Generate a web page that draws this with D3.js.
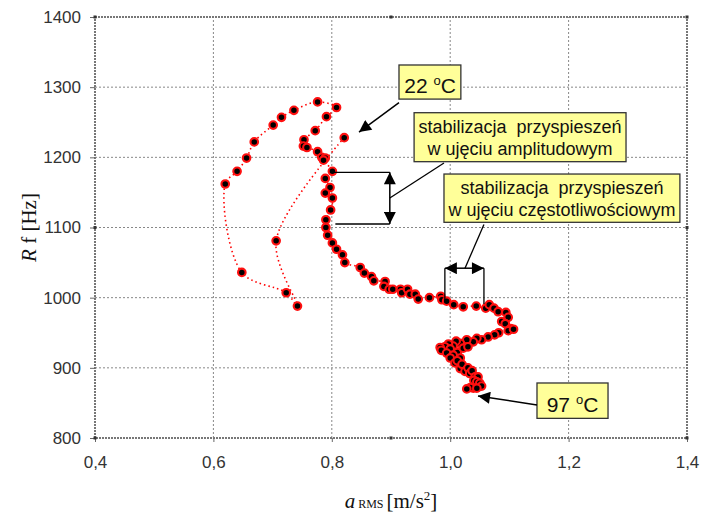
<!DOCTYPE html>
<html>
<head>
<meta charset="utf-8">
<title>Rf vs aRMS</title>
<script src="https://d3js.org/d3.v7.min.js"></script>
<style>
body{margin:0;background:#fff;}
svg{display:block;}
.tick-lbl{font-family:"Liberation Sans",Arial,sans-serif;font-size:17px;fill:#333;}
.box-txt{font-family:"Liberation Sans",Arial,sans-serif;font-size:18px;fill:#111;white-space:pre;}
.ttl{font-family:"Liberation Serif","Times New Roman",serif;fill:#111;}
</style>
</head>
<body>
<svg width="701" height="515" id="mainsvg"></svg>
<script>
// a_RMS [m/s2] and Rf [Hz], read in heating order 22 C -> 97 C
const aRms=[0.821,0.706,0.742,0.723,0.648,0.620,0.640,0.656,0.669,0.701,
 0.715,0.736,0.776,0.808,0.791,0.772,0.753,0.752,0.758,0.776,
 0.783,0.789,0.786,0.801,0.789,0.797,0.789,0.801,0.798,0.790,
 0.790,0.793,0.801,0.808,0.818,0.822,0.848,0.855,0.867,0.871,
 0.890,0.888,0.897,0.903,0.916,0.918,0.928,0.932,0.941,0.946,
 0.965,0.984,0.986,0.994,1.006,1.022,1.044,1.060,1.066,1.074,
 1.081,1.094,1.098,1.087,1.093,1.102,1.098,1.107,1.082,1.075,
 1.064,1.053,1.045,1.039,1.028,1.017,1.010,1.005,0.997,0.991,
 0.983,0.985,1.000,0.994,1.012,1.022,1.030,1.005,1.017,1.000,
 1.008,1.012,1.017,1.020,1.025,1.030,1.033,1.037,1.042,1.047,
 1.040,1.045,1.050,1.053,1.039,1.034,1.028,1.045];
const rf=[1228,1081,988,1007,1036,1162,1180,1199,1222,1246,
 1257,1267,1279,1271,1258,1238,1225,1216,1214,1208,
 1200,1199,1196,1180,1170,1157,1149,1142,1125,1111,
 1100,1089,1078,1069,1061,1050,1043,1035,1030,1024,
 1023,1016,1012,1012,1012,1007,1012,1005,1005,998,
 1000,1002,997,995,990,987,988,985,990,985,
 980,979,972,966,963,956,953,955,950,947,
 944,940,942,937,940,935,938,931,934,930,
 929,925,927,921,922,928,930,918,914,914,
 907,910,899,905,895,900,892,896,887,887,
 882,880,878,874,871,872,870,871];

const xTicks=[0.4,0.6,0.8,1.0,1.2,1.4];
const yTicks=[800,900,1000,1100,1200,1300,1400];

const svg=d3.select('#mainsvg');
const margin={top:17,left:95,right:14,bottom:77};
const width=+svg.attr('width'), height=+svg.attr('height');

const x=d3.scaleLinear().domain([0.4,1.4]).range([margin.left,width-margin.right]);
const y=d3.scaleLinear().domain([800,1400]).range([height-margin.bottom,margin.top]);

const fmt=d=>d3.format('.1f')(d).replace('.',',');

// grid
svg.append('g').selectAll('line').data(xTicks.slice(1,-1)).join('line')
  .attr('x1',d=>x(d)).attr('x2',d=>x(d)).attr('y1',y(800)).attr('y2',y(1400))
  .attr('stroke','#888').attr('stroke-width',1).attr('stroke-dasharray','2,2');
svg.append('g').selectAll('line').data(yTicks.slice(1,-1)).join('line')
  .attr('y1',d=>y(d)).attr('y2',d=>y(d)).attr('x1',x(0.4)).attr('x2',x(1.4))
  .attr('stroke','#888').attr('stroke-width',1).attr('stroke-dasharray','2,2');

// frame
svg.append('rect').attr('x',x(0.4)).attr('y',y(1400))
  .attr('width',x(1.4)-x(0.4)).attr('height',y(800)-y(1400))
  .attr('fill','none').attr('stroke','#777').attr('stroke-width',2).attr('stroke-dasharray','2,1');

// axes (ticks + labels)
const yAxis=d3.axisLeft(y).tickValues(yTicks).tickSize(5).tickPadding(9).tickFormat(d3.format('d'));
const xAxis=d3.axisBottom(x).tickValues(xTicks).tickSize(4).tickPadding(14).tickFormat(fmt);
const gy=svg.append('g').attr('transform',`translate(${x(0.4)},0)`).call(yAxis);
const gx=svg.append('g').attr('transform',`translate(0,${y(800)})`).call(xAxis);
[gx,gy].forEach(g=>{
  g.select('.domain').remove();
  g.selectAll('.tick line').attr('stroke','#666');
  g.selectAll('.tick text').attr('class','tick-lbl').attr('fill',null);
});

// small handles on the frame
const handles=[[0.4,1400],[0.9,1400],[1.4,1400],[0.4,1100],[1.4,1100],[0.4,800],[0.9,800],[1.4,800]];
svg.append('g').selectAll('rect').data(handles).join('rect')
  .attr('x',d=>x(d[0])-1.5).attr('y',d=>y(d[1])-1.5).attr('width',3).attr('height',3)
  .attr('fill','#333');

// series
const pts=aRms.map((v,i)=>({a:v,f:rf[i]}));
svg.append('path').datum(pts)
  .attr('d',d3.line().x(d=>x(d.a)).y(d=>y(d.f)).curve(d3.curveCatmullRom.alpha(0.5)))
  .attr('fill','none').attr('stroke','#ff0000').attr('stroke-width',1.6).attr('stroke-dasharray','1.5,3');
svg.append('g').selectAll('circle').data(pts).join('circle')
  .attr('cx',d=>x(d.a)).attr('cy',d=>y(d.f)).attr('r',3.8)
  .attr('fill','#000').attr('stroke','#ff1010').attr('stroke-width',2.1);

// annotations
svg.append('defs').append('marker').attr('id','ah').attr('viewBox','0 0 10 10')
  .attr('refX',10).attr('refY',5).attr('markerWidth',14).attr('markerHeight',12)
  .attr('markerUnits','userSpaceOnUse').attr('orient','auto')
  .append('path').attr('d','M0,0L10,5L0,10z').attr('fill','#000');

function arrow(x1,y1,x2,y2,w){
  svg.append('line').attr('x1',x(x1)).attr('y1',y(y1)).attr('x2',x(x2)).attr('y2',y(y2))
    .attr('stroke','#000').attr('stroke-width',w||1.3).attr('marker-end','url(#ah)');
}
function seg(x1,y1,x2,y2,w){
  svg.append('line').attr('x1',x(x1)).attr('y1',y(y1)).attr('x2',x(x2)).attr('y2',y(y2))
    .attr('stroke','#000').attr('stroke-width',w||1.3);
}
function box(x0,x1,y0,y1){
  svg.append('rect').attr('x',x(x0)).attr('y',y(y0)).attr('width',x(x1)-x(x0)).attr('height',y(y1)-y(y0))
    .attr('fill','#ffff99').attr('stroke','#333').attr('stroke-width',1.3);
}
function lines(cx,ys,txt){
  txt.forEach((t,i)=>svg.append('text').attr('class','box-txt').attr('x',x(cx)).attr('y',y(ys[i]))
    .attr('text-anchor','middle').text(t));
}
function degree(cx,yb,val){
  const t=svg.append('text').attr('class','box-txt').attr('x',x(cx)).attr('y',y(yb))
    .attr('text-anchor','middle').style('font-size','21px');
  t.append('tspan').text(val+' ');
  t.append('tspan').attr('dy',-8).style('font-size','13px').text('o');
  t.append('tspan').attr('dy',8).text('C');
}

// 22 C
box(0.9135,1.018,1331.6,1283);
degree(0.966,1291,'22');
arrow(0.9135,1278,0.846,1236,1.5);

// amplitude stabilisation
box(0.939,1.297,1263.6,1193.8);
lines(1.118,[1235,1204],['stabilizacja  przyspieszeń','w ujęciu amplitudowym']);
seg(0.9895,1192,0.898,1142);
seg(0.802,1178.7,0.898,1178.7);
seg(0.806,1105,0.898,1105);
arrow(0.898,1142,0.898,1178.7,1.5);
arrow(0.898,1142,0.898,1105,1.5);

// frequency stabilisation
box(0.9895,1.388,1176.2,1107.4);
lines(1.189,[1148,1117],['stabilizacja  przyspieszeń','w ujęciu częstotliwościowym']);
seg(1.057,1104.3,1.025,1042);
seg(0.991,1042,0.991,996.7);
seg(1.057,1042,1.057,991);
arrow(1.025,1042,0.991,1042,1.5);
arrow(1.025,1042,1.057,1042,1.5);

// 97 C
box(1.1466,1.2666,878.4,828);
degree(1.2066,837,'97');
arrow(1.1466,847,1.047,860,1.5);

// axis titles
const xt=svg.append('text').attr('class','ttl').attr('x',x(0.9)).attr('y',508).attr('text-anchor','middle').style('font-size','21px');
xt.append('tspan').style('font-style','italic').text('a');
xt.append('tspan').style('font-size','12px').text('  RMS ');
xt.append('tspan').text('[m/s');
xt.append('tspan').attr('dy',-8).style('font-size','13px').text('2');
xt.append('tspan').attr('dy',8).text(']');

const yt=svg.append('text').attr('class','ttl')
  .attr('transform',`translate(36,${y(1100)}) rotate(-90)`).attr('text-anchor','middle').style('font-size','21px');
yt.append('tspan').style('font-style','italic').text('R');
yt.append('tspan').text(' f [Hz]');
</script>
</body>
</html>
